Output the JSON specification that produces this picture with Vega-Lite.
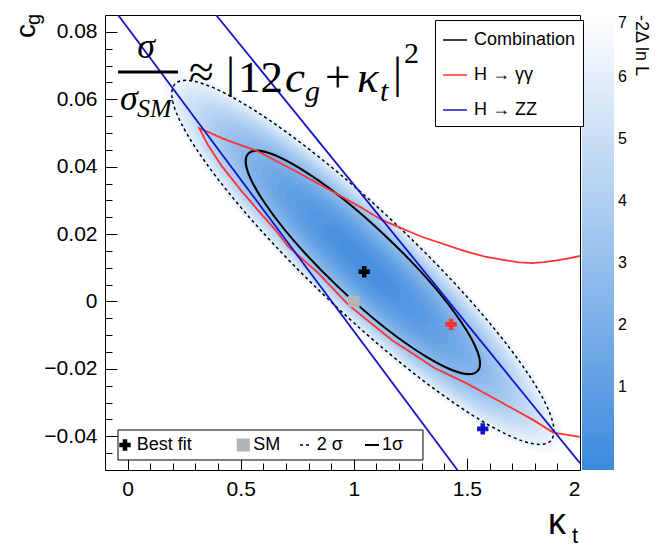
{
  "$schema": "https://vega.github.io/schema/vega-lite/v6.json",
  "width": 475,
  "height": 455,
  "autosize": {"type": "none"},
  "padding": {"left": 105, "top": 15, "right": 82, "bottom": 79},
  "background": "white",
  "data": {"values": [{}]},
  "config": {
    "view": {"stroke": "black", "strokeWidth": 1},
    "axis": {"grid": false, "domain": false, "labelFont": "Liberation Sans", "labelFontSize": 21, "labelColor": "black", "tickColor": "black", "tickWidth": 1},
    "legend": {"labelFont": "Liberation Sans", "titleFont": "Liberation Sans"},
    "text": {"font": "Liberation Sans", "color": "black"}
  },
  "datasets": {
    "heat": [
      {"x": 1.04, "y": 0.0116, "z": 7}, {"x": 1.04, "y": 0.0116, "z": 6.75}, {"x": 1.04, "y": 0.0116, "z": 6.5}, {"x": 1.04, "y": 0.0116, "z": 6.25},
      {"x": 1.04, "y": 0.0116, "z": 6}, {"x": 1.04, "y": 0.0116, "z": 5.75}, {"x": 1.04, "y": 0.0116, "z": 5.5}, {"x": 1.04, "y": 0.0116, "z": 5.25},
      {"x": 1.04, "y": 0.0116, "z": 5}, {"x": 1.04, "y": 0.0116, "z": 4.75}, {"x": 1.04, "y": 0.0116, "z": 4.5}, {"x": 1.04, "y": 0.0116, "z": 4.25},
      {"x": 1.04, "y": 0.0116, "z": 4}, {"x": 1.04, "y": 0.0116, "z": 3.75}, {"x": 1.04, "y": 0.0116, "z": 3.5}, {"x": 1.04, "y": 0.0116, "z": 3.25},
      {"x": 1.04, "y": 0.0116, "z": 3}, {"x": 1.04, "y": 0.0116, "z": 2.75}, {"x": 1.04, "y": 0.0116, "z": 2.5}, {"x": 1.04, "y": 0.0116, "z": 2.25},
      {"x": 1.04, "y": 0.0116, "z": 2}, {"x": 1.04, "y": 0.0116, "z": 1.75}, {"x": 1.04, "y": 0.0116, "z": 1.5}, {"x": 1.04, "y": 0.0116, "z": 1.25},
      {"x": 1.04, "y": 0.0116, "z": 1}, {"x": 1.04, "y": 0.0116, "z": 0.75}, {"x": 1.04, "y": 0.0116, "z": 0.5}, {"x": 1.04, "y": 0.0116, "z": 0.25},
      {"x": 1.04, "y": 0.0116, "z": 0.1}
    ],
    "contours": [
      {"c": "2s", "x": 1.04, "y": 0.0116, "z": 6.18},
      {"c": "1s", "x": 1.04, "y": 0.0116, "z": 2.3}
    ],
    "curves": [
      {"curve": "gg", "series": "H → γγ", "i": 0, "x": 2.0, "y": 0.0135},
      {"curve": "gg", "series": "H → γγ", "i": 1, "x": 1.95, "y": 0.0128},
      {"curve": "gg", "series": "H → γγ", "i": 2, "x": 1.898, "y": 0.0122},
      {"curve": "gg", "series": "H → γγ", "i": 3, "x": 1.84, "y": 0.0117},
      {"curve": "gg", "series": "H → γγ", "i": 4, "x": 1.788, "y": 0.0114},
      {"curve": "gg", "series": "H → γγ", "i": 5, "x": 1.73, "y": 0.0116},
      {"curve": "gg", "series": "H → γγ", "i": 6, "x": 1.673, "y": 0.0122},
      {"curve": "gg", "series": "H → γγ", "i": 7, "x": 1.58, "y": 0.0133},
      {"curve": "gg", "series": "H → γγ", "i": 8, "x": 1.487, "y": 0.015},
      {"curve": "gg", "series": "H → γγ", "i": 9, "x": 1.3, "y": 0.0192},
      {"curve": "gg", "series": "H → γγ", "i": 10, "x": 1.123, "y": 0.0242},
      {"curve": "gg", "series": "H → γγ", "i": 11, "x": 1.027, "y": 0.0281},
      {"curve": "gg", "series": "H → γγ", "i": 12, "x": 0.88, "y": 0.0336},
      {"curve": "gg", "series": "H → γγ", "i": 13, "x": 0.733, "y": 0.039},
      {"curve": "gg", "series": "H → γγ", "i": 14, "x": 0.571, "y": 0.0447},
      {"curve": "gg", "series": "H → γγ", "i": 15, "x": 0.438, "y": 0.0479},
      {"curve": "gg", "series": "H → γγ", "i": 16, "x": 0.317, "y": 0.0514},
      {"curve": "gg", "series": "H → γγ", "i": 17, "x": 0.3553, "y": 0.0464},
      {"curve": "gg", "series": "H → γγ", "i": 18, "x": 0.4182, "y": 0.04},
      {"curve": "gg", "series": "H → γγ", "i": 19, "x": 0.4996, "y": 0.0331},
      {"curve": "gg", "series": "H → γγ", "i": 20, "x": 0.5747, "y": 0.0272},
      {"curve": "gg", "series": "H → γγ", "i": 21, "x": 0.6538, "y": 0.0212},
      {"curve": "gg", "series": "H → γγ", "i": 22, "x": 0.71, "y": 0.0163},
      {"curve": "gg", "series": "H → γγ", "i": 23, "x": 0.843, "y": 0.0084},
      {"curve": "gg", "series": "H → γγ", "i": 24, "x": 0.976, "y": -0.001},
      {"curve": "gg", "series": "H → γγ", "i": 25, "x": 1.168, "y": -0.0114},
      {"curve": "gg", "series": "H → γγ", "i": 26, "x": 1.359, "y": -0.0198},
      {"curve": "gg", "series": "H → γγ", "i": 27, "x": 1.499, "y": -0.0243},
      {"curve": "gg", "series": "H → γγ", "i": 28, "x": 1.646, "y": -0.0297},
      {"curve": "gg", "series": "H → γγ", "i": 29, "x": 1.794, "y": -0.0352},
      {"curve": "gg", "series": "H → γγ", "i": 30, "x": 1.882, "y": -0.0389},
      {"curve": "gg", "series": "H → γγ", "i": 31, "x": 2.0, "y": -0.0402},
      {"curve": "zz1", "series": "H → ZZ", "i": 0, "x": -0.042, "y": 0.085},
      {"curve": "zz1", "series": "H → ZZ", "i": 1, "x": 1.458, "y": -0.05},
      {"curve": "zz2", "series": "H → ZZ", "i": 0, "x": 0.391, "y": 0.085},
      {"curve": "zz2", "series": "H → ZZ", "i": 1, "x": 2.0, "y": -0.048}
    ],
    "fits": [
      {"k": "comb", "x": 1.046, "y": 0.0088},
      {"k": "gg", "x": 1.43, "y": -0.0068},
      {"k": "zz", "x": 1.57, "y": -0.0378},
      {"k": "sm", "x": 1.0, "y": 0.0}
    ]
  },
  "resolve": {"axis": {"x": "independent", "y": "independent"}},
  "layer": [
    {
      "data": {"name": "heat"},
      "mark": {"type": "point", "shape": "M0.7254,0.6884C0.6494,0.7685,0.2629,0.5253,-0.1377,0.1451C-0.5383,-0.2351,-0.8014,-0.6083,-0.7254,-0.6884C-0.6494,-0.7685,-0.2629,-0.5253,0.1377,-0.1451C0.5383,0.2351,0.8014,0.6083,0.7254,0.6884Z", "filled": true, "opacity": 1, "strokeWidth": 0},
      "encoding": {
        "x": {"field": "x", "type": "quantitative", "scale": {"domain": [-0.1, 2.0], "nice": false, "zero": false},
              "axis": {"orient": "bottom", "values": [0, 0.5, 1, 1.5, 2], "format": "~g", "tickSize": -12, "labelPadding": 20, "title": null}},
        "y": {"field": "y", "type": "quantitative", "scale": {"domain": [-0.05, 0.085], "nice": false, "zero": false},
              "axis": {"orient": "left", "values": [-0.04, -0.02, 0, 0.02, 0.04, 0.06, 0.08], "format": ".2~f", "tickSize": -12, "labelPadding": 20, "title": null}},
        "size": {"field": "z", "type": "quantitative", "scale": {"domain": [0, 7], "range": [0, 303914], "zero": true}, "legend": null},
        "color": {"field": "z", "type": "quantitative", "scale": {"domain": [-0.33, 7], "range": ["#3c8ade", "#ffffff"], "interpolate": "rgb"},
                  "legend": {"title": "-2Δ ln L", "orient": "right", "offset": 2, "direction": "vertical", "gradientLength": 455, "gradientThickness": 32, "gradientStrokeWidth": 0, "values": [1, 2, 3, 4, 5, 6, 7], "labelFontSize": 16, "labelOffset": 4, "labelOverlap": false, "labelColor": "black", "titleOrient": "right", "titleAngle": 270, "titleAnchor": "end", "titleFontSize": 18, "titleFontWeight": "normal", "titleColor": "black", "padding": 0}},
        "order": {"field": "z", "sort": "descending"}
      }
    },
    {
      "data": {"name": "contours"},
      "transform": [{"filter": "datum.c == '2s'"}],
      "mark": {"type": "point", "shape": "M0.7254,0.6884C0.6513,0.7665,0.2664,0.5217,-0.1342,0.1415C-0.5348,-0.2387,-0.7995,-0.6103,-0.7254,-0.6884C-0.6513,-0.7665,-0.2664,-0.5217,0.1342,-0.1415C0.5348,0.2387,0.7995,0.6103,0.7254,0.6884Z", "filled": false, "stroke": "black", "strokeWidth": 1.5, "strokeDash": [3, 3], "opacity": 1},
      "encoding": {
        "x": {"field": "x", "type": "quantitative", "axis": null},
        "y": {"field": "y", "type": "quantitative", "axis": null},
        "size": {"field": "z", "type": "quantitative", "legend": null}
      }
    },
    {
      "data": {"name": "contours"},
      "transform": [{"filter": "datum.c == '1s'"}],
      "mark": {"type": "point", "shape": "M0.7254,0.6884C0.6418,0.7765,0.2492,0.5398,-0.1514,0.1596C-0.5521,-0.2206,-0.8091,-0.6003,-0.7254,-0.6884C-0.6418,-0.7765,-0.2492,-0.5398,0.1514,-0.1596C0.5521,0.2206,0.8091,0.6003,0.7254,0.6884Z", "filled": false, "stroke": "black", "strokeWidth": 2, "opacity": 1},
      "encoding": {
        "x": {"field": "x", "type": "quantitative", "axis": null},
        "y": {"field": "y", "type": "quantitative", "axis": null},
        "size": {"field": "z", "type": "quantitative", "legend": null}
      }
    },
    {
      "data": {"name": "curves"},
      "mark": {"type": "line", "strokeWidth": 1.8, "clip": true},
      "encoding": {
        "x": {"field": "x", "type": "quantitative", "axis": null},
        "y": {"field": "y", "type": "quantitative", "axis": null},
        "detail": {"field": "curve", "type": "nominal"},
        "order": {"field": "i", "type": "quantitative"},
        "stroke": {"field": "series", "type": "nominal",
                   "scale": {"domain": ["Combination", "H → γγ", "H → ZZ"], "range": ["#000000", "#ff3333", "#1515c8"]},
                   "legend": {"orient": "none", "legendX": 330, "legendY": 5, "title": null, "symbolType": "stroke", "symbolSize": 576, "symbolStrokeWidth": 1.5, "labelFontSize": 18, "labelOffset": 6, "rowPadding": 13, "padding": 7, "fillColor": "white", "strokeColor": "black", "labelColor": "black"}}
      }
    },
    {
      "data": {"name": "fits"},
      "transform": [{"filter": "datum.k == 'sm'"}],
      "mark": {"type": "point", "shape": "square", "filled": true, "color": "#b4b4b4", "size": 137, "opacity": 1},
      "encoding": {
        "x": {"field": "x", "type": "quantitative",
              "axis": {"orient": "bottom", "values": [0.1, 0.2, 0.3, 0.4, 0.6, 0.7, 0.8, 0.9, 1.1, 1.2, 1.3, 1.4, 1.6, 1.7, 1.8, 1.9], "labels": false, "tickSize": -7, "title": null}},
        "y": {"field": "y", "type": "quantitative",
              "axis": {"orient": "left", "values": [-0.045, -0.035, -0.03, -0.025, -0.015, -0.01, -0.005, 0.005, 0.01, 0.015, 0.025, 0.03, 0.035, 0.045, 0.05, 0.055, 0.065, 0.07, 0.075], "labels": false, "tickSize": -7, "title": null}}
      }
    },
    {
      "data": {"name": "fits"},
      "transform": [{"filter": "datum.k == 'comb'"}],
      "mark": {"type": "point", "shape": "cross", "filled": true, "color": "black", "size": 130, "opacity": 1},
      "encoding": {"x": {"field": "x", "type": "quantitative", "axis": null}, "y": {"field": "y", "type": "quantitative", "axis": null}}
    },
    {
      "data": {"name": "fits"},
      "transform": [{"filter": "datum.k == 'gg'"}],
      "mark": {"type": "point", "shape": "cross", "filled": true, "color": "#ff3333", "size": 130, "opacity": 1},
      "encoding": {"x": {"field": "x", "type": "quantitative", "axis": null}, "y": {"field": "y", "type": "quantitative", "axis": null}}
    },
    {
      "data": {"name": "fits"},
      "transform": [{"filter": "datum.k == 'zz'"}],
      "mark": {"type": "point", "shape": "cross", "filled": true, "color": "#1515c8", "size": 130, "opacity": 1},
      "encoding": {"x": {"field": "x", "type": "quantitative", "axis": null}, "y": {"field": "y", "type": "quantitative", "axis": null}}
    },
    {
      "mark": {"type": "rect", "fill": "white", "stroke": "black", "strokeWidth": 1},
      "encoding": {"x": {"datum": -0.0425, "type": "quantitative", "axis": null}, "x2": {"datum": 1.3058}, "y": {"datum": -0.03813, "type": "quantitative", "axis": null}, "y2": {"datum": -0.04703}}
    },
    {
      "mark": {"type": "point", "shape": "cross", "filled": true, "color": "black", "size": 130, "opacity": 1},
      "encoding": {"x": {"datum": -0.0116, "type": "quantitative", "axis": null}, "y": {"datum": -0.04258, "type": "quantitative", "axis": null}}
    },
    {
      "mark": {"type": "point", "shape": "square", "filled": true, "color": "#b4b4b4", "size": 170, "opacity": 1},
      "encoding": {"x": {"datum": 0.5114, "type": "quantitative", "axis": null}, "y": {"datum": -0.04258, "type": "quantitative", "axis": null}}
    },
    {
      "mark": {"type": "rule", "color": "black", "strokeWidth": 1.5, "strokeDash": [3, 3]},
      "encoding": {"x": {"datum": 0.7621, "type": "quantitative", "axis": null}, "x2": {"datum": 0.8151}, "y": {"datum": -0.04258, "type": "quantitative", "axis": null}}
    },
    {
      "mark": {"type": "rule", "color": "black", "strokeWidth": 2},
      "encoding": {"x": {"datum": 1.0495, "type": "quantitative", "axis": null}, "x2": {"datum": 1.1114}, "y": {"datum": -0.04258, "type": "quantitative", "axis": null}}
    },
    {
      "mark": {"type": "text", "text": "Best fit", "fontSize": 18, "align": "left", "baseline": "middle"},
      "encoding": {"x": {"datum": 0.04, "type": "quantitative", "axis": null}, "y": {"datum": -0.04258, "type": "quantitative", "axis": null}}
    },
    {
      "mark": {"type": "text", "text": "SM", "fontSize": 18, "align": "left", "baseline": "middle"},
      "encoding": {"x": {"datum": 0.5557, "type": "quantitative", "axis": null}, "y": {"datum": -0.04258, "type": "quantitative", "axis": null}}
    },
    {
      "mark": {"type": "text", "text": "2 σ", "fontSize": 18, "align": "left", "baseline": "middle"},
      "encoding": {"x": {"datum": 0.836, "type": "quantitative", "axis": null}, "y": {"datum": -0.04258, "type": "quantitative", "axis": null}}
    },
    {
      "mark": {"type": "text", "text": "1σ", "fontSize": 18, "align": "left", "baseline": "middle"},
      "encoding": {"x": {"datum": 1.125, "type": "quantitative", "axis": null}, "y": {"datum": -0.04258, "type": "quantitative", "axis": null}}
    },
    {
      "mark": {"type": "text", "text": "σ", "font": "Liberation Serif", "fontSize": 36, "fontStyle": "italic", "align": "center", "baseline": "alphabetic"},
      "encoding": {"x": {"datum": 0.0813, "type": "quantitative", "axis": null}, "y": {"datum": 0.07224, "type": "quantitative", "axis": null}}
    },
    {
      "mark": {"type": "rule", "color": "black", "strokeWidth": 3},
      "encoding": {"x": {"datum": -0.0425, "type": "quantitative", "axis": null}, "x2": {"datum": 0.2228}, "y": {"datum": 0.0681, "type": "quantitative", "axis": null}}
    },
    {
      "mark": {"type": "text", "text": "σ", "font": "Liberation Serif", "fontSize": 36, "fontStyle": "italic", "align": "left", "baseline": "alphabetic"},
      "encoding": {"x": {"datum": -0.0337, "type": "quantitative", "axis": null}, "y": {"datum": 0.05681, "type": "quantitative", "axis": null}}
    },
    {
      "mark": {"type": "text", "text": "SM", "font": "Liberation Serif", "fontSize": 26, "fontStyle": "italic", "align": "left", "baseline": "alphabetic"},
      "encoding": {"x": {"datum": 0.0415, "type": "quantitative", "axis": null}, "y": {"datum": 0.05474, "type": "quantitative", "axis": null}}
    },
    {
      "mark": {"type": "text", "text": "≈", "font": "Liberation Serif", "fontSize": 45, "align": "left", "baseline": "alphabetic"},
      "encoding": {"x": {"datum": 0.2714, "type": "quantitative", "axis": null}, "y": {"datum": 0.06364, "type": "quantitative", "axis": null}}
    },
    {
      "mark": {"type": "text", "text": "|", "font": "Liberation Serif", "fontSize": 45, "align": "left", "baseline": "alphabetic"},
      "encoding": {"x": {"datum": 0.435, "type": "quantitative", "axis": null}, "y": {"datum": 0.06335, "type": "quantitative", "axis": null}}
    },
    {
      "mark": {"type": "text", "text": "12", "font": "Liberation Serif", "fontSize": 45, "align": "left", "baseline": "alphabetic"},
      "encoding": {"x": {"datum": 0.488, "type": "quantitative", "axis": null}, "y": {"datum": 0.06216, "type": "quantitative", "axis": null}}
    },
    {
      "mark": {"type": "text", "text": "c", "font": "Liberation Serif", "fontSize": 45, "fontStyle": "italic", "align": "left", "baseline": "alphabetic"},
      "encoding": {"x": {"datum": 0.6958, "type": "quantitative", "axis": null}, "y": {"datum": 0.06216, "type": "quantitative", "axis": null}}
    },
    {
      "mark": {"type": "text", "text": "g", "font": "Liberation Serif", "fontSize": 30, "fontStyle": "italic", "align": "left", "baseline": "alphabetic"},
      "encoding": {"x": {"datum": 0.7842, "type": "quantitative", "axis": null}, "y": {"datum": 0.05948, "type": "quantitative", "axis": null}}
    },
    {
      "mark": {"type": "text", "text": "+", "font": "Liberation Serif", "fontSize": 45, "align": "left", "baseline": "alphabetic"},
      "encoding": {"x": {"datum": 0.8726, "type": "quantitative", "axis": null}, "y": {"datum": 0.06216, "type": "quantitative", "axis": null}}
    },
    {
      "mark": {"type": "text", "text": "κ", "font": "Liberation Serif", "fontSize": 45, "fontStyle": "italic", "align": "left", "baseline": "alphabetic"},
      "encoding": {"x": {"datum": 1.0141, "type": "quantitative", "axis": null}, "y": {"datum": 0.06216, "type": "quantitative", "axis": null}}
    },
    {
      "mark": {"type": "text", "text": "t", "font": "Liberation Serif", "fontSize": 30, "fontStyle": "italic", "align": "left", "baseline": "alphabetic"},
      "encoding": {"x": {"datum": 1.1158, "type": "quantitative", "axis": null}, "y": {"datum": 0.05948, "type": "quantitative", "axis": null}}
    },
    {
      "mark": {"type": "text", "text": "|", "font": "Liberation Serif", "fontSize": 45, "align": "left", "baseline": "alphabetic"},
      "encoding": {"x": {"datum": 1.1732, "type": "quantitative", "axis": null}, "y": {"datum": 0.06335, "type": "quantitative", "axis": null}}
    },
    {
      "mark": {"type": "text", "text": "2", "font": "Liberation Serif", "fontSize": 30, "align": "left", "baseline": "alphabetic"},
      "encoding": {"x": {"datum": 1.2219, "type": "quantitative", "axis": null}, "y": {"datum": 0.07076, "type": "quantitative", "axis": null}}
    },
    {
      "mark": {"type": "text", "text": "c", "fontSize": 28, "angle": 270, "align": "left", "baseline": "alphabetic"},
      "encoding": {"x": {"datum": -0.4095, "type": "quantitative", "axis": null}, "y": {"datum": 0.07818, "type": "quantitative", "axis": null}}
    },
    {
      "mark": {"type": "text", "text": "g", "fontSize": 20, "angle": 270, "align": "left", "baseline": "alphabetic"},
      "encoding": {"x": {"datum": -0.3873, "type": "quantitative", "axis": null}, "y": {"datum": 0.08203, "type": "quantitative", "axis": null}}
    },
    {
      "mark": {"type": "text", "text": "κ", "fontSize": 36, "align": "left", "baseline": "alphabetic"},
      "encoding": {"x": {"datum": 1.8585, "type": "quantitative", "axis": null}, "y": {"datum": -0.06899, "type": "quantitative", "axis": null}}
    },
    {
      "mark": {"type": "text", "text": "t", "fontSize": 22, "align": "left", "baseline": "alphabetic"},
      "encoding": {"x": {"datum": 1.965, "type": "quantitative", "axis": null}, "y": {"datum": -0.07166, "type": "quantitative", "axis": null}}
    }
  ]
}
